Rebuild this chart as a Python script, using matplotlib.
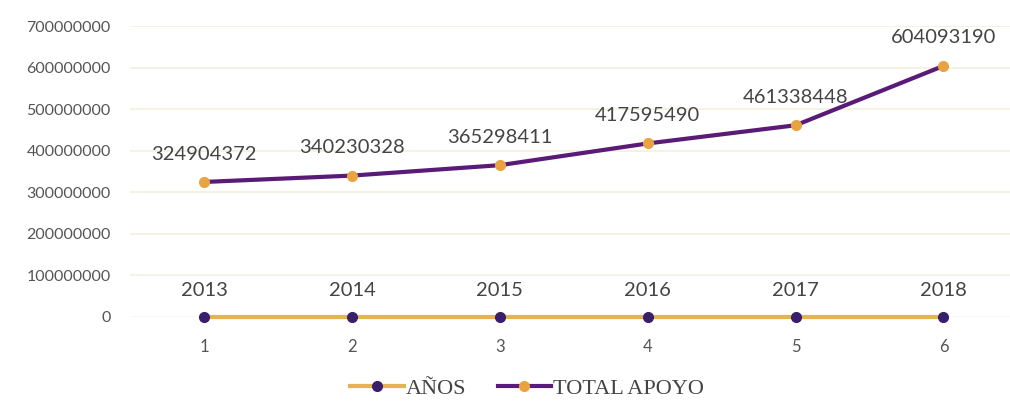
import matplotlib
matplotlib.use("Agg")
import matplotlib.pyplot as plt
from matplotlib.lines import Line2D

x = [1, 2, 3, 4, 5, 6]
years = [2013, 2014, 2015, 2016, 2017, 2018]
anos_vals = [0, 0, 0, 0, 0, 0]
total_apoyo = [324904372, 340230328, 365298411, 417595490, 461338448, 604093190]
yticks = [0, 100000000, 200000000, 300000000, 400000000, 500000000, 600000000, 700000000]

GOLD = "#E3B453"
PURPLE = "#5A1A78"
DARK = "#3A1E6E"
ORANGE = "#E9A441"
TXT = "#555555"

plt.rcParams["font.family"] = ["Lato", "DejaVu Sans"]

fig = plt.figure(figsize=(10.1, 4.01), dpi=100)
ax = fig.add_axes([0.129, 0.2095, 0.871, 0.7255])

for y in yticks[1:]:
    ax.axhline(y, color="#F3EFE0", lw=1.2, zorder=0)
ax.axhline(0, color="#E2D6DC", lw=1.0, zorder=0)

ax.plot(x, anos_vals, color=GOLD, lw=3, marker="o", ms=7,
        mfc=DARK, mec=DARK, clip_on=False, zorder=3)
ax.plot(x, total_apoyo, color=PURPLE, lw=3, marker="o", ms=7,
        mfc=ORANGE, mec=ORANGE, clip_on=False, zorder=3)

for xi, yr in zip(x, years):
    ax.annotate(str(yr), (xi, 0), xytext=(0, 13), textcoords="offset points",
                ha="center", va="bottom", fontsize=14.5, color="#444444")
for xi, v in zip(x, total_apoyo):
    ax.annotate(str(v), (xi, v), xytext=(0, 14), textcoords="offset points",
                ha="center", va="bottom", fontsize=14.5, color="#444444")

ax.set_xlim(0.5, 6.45)
ax.set_ylim(0, 700000000)
ax.set_yticks(yticks)
ax.set_yticklabels([str(t) for t in yticks])
ax.set_xticks(x)
ax.tick_params(length=0, labelsize=12, colors=TXT)
ax.tick_params(axis="y", labelsize=11.5, pad=14)
ax.tick_params(axis="x", pad=16)
for s in ax.spines.values():
    s.set_visible(False)

handles = [
    Line2D([], [], color=GOLD, lw=3, marker="o", ms=7, mfc=DARK, mec=DARK),
    Line2D([], [], color=PURPLE, lw=3, marker="o", ms=7, mfc=ORANGE, mec=ORANGE),
]
fig.legend(handles, ["AÑOS", "TOTAL APOYO"], loc="center", bbox_to_anchor=(0.522, 0.03),
           ncol=2, frameon=False, handlelength=2.4, handletextpad=0.1, columnspacing=1.4,
           prop={"family": "Liberation Serif", "size": 16}, labelcolor="#444444")

fig.savefig("out.png", dpi=100)
